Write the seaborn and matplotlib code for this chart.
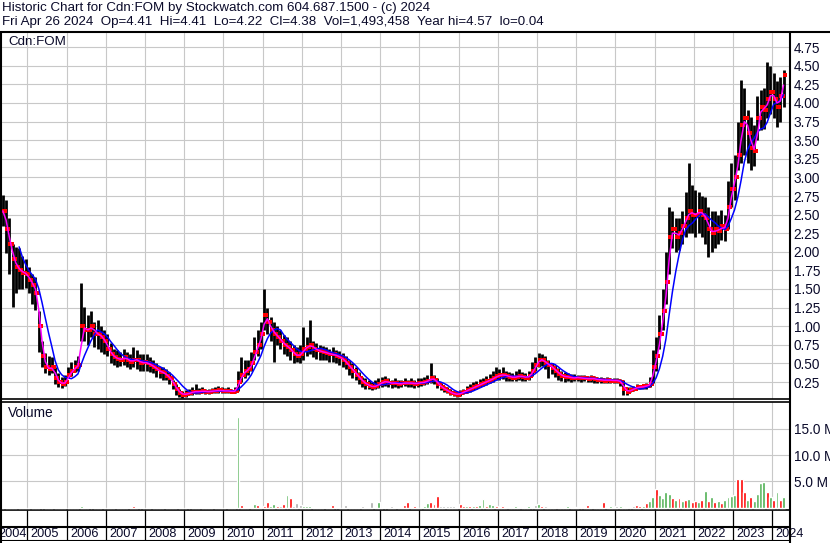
import numpy as np
import pandas as pd
import matplotlib
matplotlib.use("Agg")
import matplotlib.pyplot as plt
from matplotlib.lines import Line2D
import seaborn as sns

# monthly values, May 2004 .. Apr 2024 (one row per year)
close = [
    2.55, 2.30, 2.10, 1.90, 1.80, 1.75, 1.72, 1.70,
    1.62, 1.55, 1.45, 1.00, 0.60, 0.45, 0.42, 0.45, 0.30, 0.25, 0.22, 0.25,
    0.35, 0.40, 0.45, 0.48, 1.00, 0.95, 0.95, 1.00, 0.90, 0.90, 0.85, 0.80,
    0.70, 0.62, 0.58, 0.56, 0.55, 0.58, 0.55, 0.52, 0.55, 0.55, 0.50, 0.52,
    0.50, 0.48, 0.45, 0.42, 0.38, 0.38, 0.33, 0.30, 0.22, 0.15, 0.10, 0.08,
    0.09, 0.10, 0.12, 0.12, 0.12, 0.13, 0.12, 0.12, 0.13, 0.13, 0.14, 0.13,
    0.13, 0.13, 0.12, 0.13, 0.25, 0.35, 0.40, 0.42, 0.50, 0.65, 0.75, 0.90,
    1.15, 1.05, 0.95, 0.90, 0.85, 0.80, 0.75, 0.72, 0.68, 0.62, 0.60, 0.62,
    0.70, 0.72, 0.75, 0.70, 0.68, 0.66, 0.65, 0.64, 0.62, 0.62, 0.60, 0.58,
    0.55, 0.50, 0.45, 0.40, 0.35, 0.30, 0.25, 0.22, 0.20, 0.18, 0.20, 0.22,
    0.25, 0.26, 0.24, 0.23, 0.24, 0.22, 0.23, 0.24, 0.23, 0.24, 0.22, 0.24,
    0.24, 0.25, 0.27, 0.30, 0.28, 0.22, 0.18, 0.15, 0.13, 0.10, 0.09, 0.08,
    0.10, 0.12, 0.14, 0.16, 0.18, 0.20, 0.22, 0.24, 0.26, 0.28, 0.30, 0.33,
    0.34, 0.35, 0.33, 0.32, 0.31, 0.32, 0.33, 0.32, 0.31, 0.33, 0.40, 0.48,
    0.55, 0.55, 0.50, 0.48, 0.44, 0.40, 0.36, 0.33, 0.32, 0.32, 0.30, 0.31,
    0.31, 0.30, 0.30, 0.29, 0.30, 0.29, 0.28, 0.28, 0.27, 0.28, 0.27, 0.27,
    0.27, 0.25, 0.15, 0.12, 0.14, 0.16, 0.18, 0.18, 0.19, 0.20, 0.22, 0.45,
    0.60, 0.90, 1.20, 1.60, 2.20, 2.30, 2.20, 2.25, 2.35, 2.45, 2.55, 2.50,
    2.50, 2.55, 2.50, 2.45, 2.30, 2.25, 2.30, 2.28, 2.35, 2.30, 2.60, 2.85,
    3.00, 3.30, 3.70, 3.80, 3.60, 3.40, 3.35, 3.80, 3.95, 3.90, 4.05, 4.15,
    4.05, 3.95, 4.10, 4.38,
]
high = [
    2.76, 2.69, 2.45, 2.10, 2.06, 2.05, 1.95, 1.90,
    1.80, 1.70, 1.66, 1.20, 0.80, 0.64, 0.60, 0.58, 0.45, 0.37, 0.32, 0.35,
    0.45, 0.52, 0.55, 0.60, 1.58, 1.26, 1.15, 1.20, 1.05, 1.08, 1.00, 0.95,
    0.90, 0.77, 0.70, 0.68, 0.65, 0.70, 0.65, 0.62, 0.72, 0.68, 0.62, 0.62,
    0.62, 0.58, 0.55, 0.50, 0.45, 0.45, 0.42, 0.38, 0.28, 0.22, 0.16, 0.13,
    0.14, 0.15, 0.18, 0.22, 0.17, 0.18, 0.16, 0.16, 0.17, 0.18, 0.19, 0.18,
    0.17, 0.18, 0.16, 0.18, 0.40, 0.58, 0.55, 0.55, 0.65, 0.85, 0.95, 1.05,
    1.50, 1.25, 1.12, 1.05, 1.00, 0.95, 0.88, 0.85, 0.80, 0.75, 0.72, 0.75,
    0.99, 0.85, 1.08, 0.80, 0.77, 0.75, 0.74, 0.72, 0.70, 0.72, 0.68, 0.66,
    0.64, 0.60, 0.55, 0.50, 0.45, 0.38, 0.32, 0.30, 0.28, 0.25, 0.28, 0.30,
    0.32, 0.33, 0.30, 0.28, 0.30, 0.28, 0.28, 0.30, 0.28, 0.30, 0.28, 0.30,
    0.30, 0.32, 0.35, 0.50, 0.35, 0.30, 0.24, 0.20, 0.18, 0.15, 0.13, 0.12,
    0.14, 0.16, 0.20, 0.22, 0.25, 0.27, 0.29, 0.31, 0.33, 0.36, 0.40, 0.45,
    0.42, 0.45, 0.40, 0.38, 0.37, 0.40, 0.42, 0.38, 0.37, 0.40, 0.52, 0.58,
    0.64, 0.63, 0.60, 0.55, 0.50, 0.48, 0.44, 0.40, 0.38, 0.37, 0.36, 0.36,
    0.35, 0.34, 0.35, 0.33, 0.34, 0.33, 0.32, 0.32, 0.31, 0.32, 0.31, 0.31,
    0.30, 0.29, 0.28, 0.18, 0.18, 0.20, 0.22, 0.21, 0.22, 0.24, 0.32, 0.68,
    0.85, 1.15, 1.50, 2.00, 2.60, 2.55, 2.45, 2.45, 2.55, 2.80, 3.19, 2.90,
    2.83, 2.80, 2.75, 2.74, 2.60, 2.55, 2.55, 2.50, 2.56, 2.50, 2.95, 3.19,
    3.30, 3.75, 4.31, 4.20, 3.90, 3.81, 3.70, 4.10, 4.17, 4.20, 4.55, 4.50,
    4.40, 4.30, 4.35, 4.45,
]
low = [
    2.35, 1.98, 1.70, 1.26, 1.45, 1.50, 1.50, 1.52,
    1.45, 1.30, 1.22, 0.65, 0.45, 0.37, 0.35, 0.37, 0.22, 0.18, 0.17, 0.20,
    0.30, 0.33, 0.38, 0.40, 0.80, 0.80, 0.75, 0.85, 0.72, 0.70, 0.65, 0.62,
    0.60, 0.50, 0.48, 0.45, 0.47, 0.48, 0.45, 0.42, 0.45, 0.42, 0.40, 0.40,
    0.40, 0.38, 0.37, 0.32, 0.30, 0.28, 0.28, 0.22, 0.15, 0.08, 0.05, 0.04,
    0.05, 0.07, 0.08, 0.09, 0.09, 0.10, 0.09, 0.09, 0.10, 0.10, 0.10, 0.10,
    0.10, 0.10, 0.10, 0.10, 0.13, 0.25, 0.30, 0.35, 0.40, 0.55, 0.60, 0.70,
    0.95, 0.90, 0.80, 0.52, 0.75, 0.70, 0.62, 0.60, 0.55, 0.50, 0.52, 0.50,
    0.55, 0.60, 0.62, 0.58, 0.56, 0.55, 0.55, 0.54, 0.52, 0.52, 0.50, 0.48,
    0.45, 0.42, 0.35, 0.30, 0.28, 0.22, 0.18, 0.16, 0.15, 0.14, 0.15, 0.17,
    0.18, 0.20, 0.18, 0.17, 0.18, 0.17, 0.18, 0.19, 0.18, 0.18, 0.17, 0.18,
    0.20, 0.21, 0.22, 0.24, 0.22, 0.17, 0.14, 0.12, 0.10, 0.07, 0.06, 0.05,
    0.06, 0.09, 0.10, 0.12, 0.14, 0.16, 0.18, 0.19, 0.21, 0.23, 0.25, 0.28,
    0.28, 0.29, 0.27, 0.27, 0.26, 0.27, 0.28, 0.27, 0.26, 0.28, 0.33, 0.40,
    0.45, 0.46, 0.42, 0.30, 0.36, 0.32, 0.28, 0.27, 0.25, 0.26, 0.25, 0.26,
    0.26, 0.25, 0.26, 0.25, 0.25, 0.24, 0.24, 0.24, 0.23, 0.24, 0.23, 0.23,
    0.24, 0.20, 0.08, 0.08, 0.11, 0.13, 0.15, 0.15, 0.16, 0.16, 0.18, 0.24,
    0.40, 0.70, 0.95, 1.30, 1.70, 2.05, 2.00, 2.02, 2.10, 2.20, 2.25, 2.25,
    2.20, 2.25, 2.20, 2.10, 1.93, 2.00, 2.05, 2.10, 2.16, 2.15, 2.30, 2.60,
    2.70, 3.10, 3.20, 3.30, 3.20, 3.10, 3.15, 3.50, 3.64, 3.65, 3.80, 3.85,
    3.80, 3.68, 3.75, 3.95,
]
# volume in millions and the bar direction (1 up, -1 down, 0 unchanged)
volume = [
    0, 0, 0, 0, 0, 0, 0, 0,
    0, 0, 0, 0, 0, 0, 0, 0, 0, 0, 0, 0,
    0, 0, 0, 0, 0.3, 0, 0, 0, 0, 0, 0, 0,
    0, 0, 0, 0, 0, 0, 0, 0, 0.3, 0, 0, 0,
    0, 0, 0, 0, 0, 0, 0, 0, 0, 0, 0, 0,
    0, 0, 0, 0, 0, 0, 0, 0, 0, 0, 0, 0,
    0, 0, 0, 0, 17.3, 0.4, 0, 0, 0, 0.6, 0.5, 0,
    0.3, 1.0, 0.2, 0.7, 0.2, 0.2, 0.7, 2.4, 1.8, 0.3, 0.9, 0.4,
    0.3, 0.2, 0.2, 0, 0, 0, 0, 0, 0, 0.5, 0, 0,
    0, 0.4, 0, 0, 0, 0, 0.2, 0, 0, 1.0, 0, 1.0,
    0, 0, 0, 0.2, 0, 0, 0, 0.5, 1.0, 0, 0.3, 0,
    0, 0.3, 0.9, 1.1, 0.6, 2.2, 0.2, 0.2, 0.2, 0.2, 0.2, 0,
    0.7, 0.3, 0.3, 0.3, 0.2, 0.2, 0.5, 1.6, 0.3, 0.6, 0.4, 0.2,
    0.1, 0.3, 0.1, 0.1, 0.1, 0.2, 0.1, 0.1, 0.1, 0.2, 0.1, 0.5,
    0.6, 0.3, 0.2, 0.1, 0.1, 0.1, 0.1, 0.1, 0.1, 0.2, 0.1, 0.1,
    0.05, 0.05, 0.05, 0.5, 0.05, 0.05, 0.05, 0.05, 1.0, 0.05, 0.2, 0.05,
    0.2, 0.2, 0.1, 0.1, 0.1, 0.2, 0.5, 0.3, 0.3, 0.9, 1.2, 2.0,
    3.5, 2.4, 1.8, 3.0, 2.6, 1.8, 1.5, 1.8, 1.2, 1.4, 1.6, 1.0,
    1.2, 1.0, 1.5, 3.1, 1.2, 2.0, 1.0, 1.2, 0.9, 1.5, 2.0, 2.2,
    2.4, 5.5, 5.5, 3.0, 1.5, 2.0, 1.2, 2.5, 4.7, 4.8, 3.0, 2.0,
    1.5, 2.9, 1.5, 2.0,
]
vol_dir = [
    0, 0, 0, 0, 0, 0, 0, 0,
    0, 0, 0, 0, 0, 0, 0, 0, 0, 0, 0, 0,
    0, 0, 0, 0, 1, 0, 0, 0, 0, 0, 0, 0,
    0, 0, 0, 0, 0, 0, 0, 0, -1, 0, 0, 0,
    0, 0, 0, 0, 0, 0, 0, 0, 0, 0, 0, 0,
    0, 0, 0, 0, 0, 0, 0, 0, 0, 0, 0, 0,
    0, 0, 0, 0, 1, -1, 0, 0, 0, 1, -1, 0,
    -1, -1, 1, 1, -1, 0, -1, 1, -1, 0, 0, 0,
    1, 1, 1, 0, 0, 0, 0, 0, 0, -1, 0, 0,
    0, 0, 0, 0, 0, 0, 0, 0, 0, 0, 0, 1,
    0, 0, 0, 0, 0, 0, 0, -1, -1, 0, -1, 0,
    0, 1, 1, -1, -1, -1, 0, 0, 0, 0, 0, 0,
    -1, -1, 1, -1, 1, -1, 1, 1, -1, 1, 1, -1,
    -1, -1, 0, 1, 0, 1, 0, -1, 0, 1, 0, 0,
    1, -1, 0, 1, 0, 0, -1, 0, 0, 1, 0, 0,
    0, 0, 0, -1, 0, 0, 0, 0, -1, 0, 1, 0,
    0, 1, -1, 0, 1, 0, -1, -1, 1, -1, 1, 1,
    -1, 1, 1, 1, 1, -1, 1, -1, 1, -1, 1, -1,
    -1, 1, -1, 1, -1, 1, -1, 1, -1, 1, 1, 1,
    1, -1, -1, -1, 1, -1, 1, 1, 1, 1, -1, 1,
    -1, 1, -1, 1,
]
years = list(range(2004, 2025))
price_ticks = [0.25, 0.50, 0.75, 1.00, 1.25, 1.50, 1.75, 2.00, 2.25, 2.50,
               2.75, 3.00, 3.25, 3.50, 3.75, 4.00, 4.25, 4.50, 4.75]
vol_ticks = [5, 10, 15]

title1 = "Historic Chart for Cdn:FOM by Stockwatch.com 604.687.1500 - (c) 2024"
title2 = ("Fri Apr 26 2024  Op=4.41  Hi=4.41  Lo=4.22  Cl=4.38  "
          "Vol=1,493,458  Year hi=4.57  lo=0.04")

months = pd.date_range("2004-05-01", periods=len(close), freq="MS")
df = pd.DataFrame({
    "t": months.year + (months.month - 0.5) / 12,
    "close": close, "high": high, "low": low,
    "volume": volume, "dir": vol_dir,
})
df["open"] = df["close"].shift(1).fillna(df["close"])
df["ma_short"] = df["close"].rolling(2, min_periods=1).mean()
df["ma_long"] = df["close"].rolling(6).mean()

sns.set_theme(style="white")
plt.rcParams['font.family'] = ['Liberation Sans', 'DejaVu Sans']
txt_color = "#0a0a2a"
grid_color = "#c8c8c8"

W, H = 830, 543
fig = plt.figure(figsize=(W / 100, H / 100), dpi=100)
fig.patch.set_facecolor("white")


def px_box(x0, y0, x1, y1):
    return [x0 / W, 1 - y1 / H, (x1 - x0) / W, (y1 - y0) / H]


# pixel -> data mapping of the original chart
xlim = (2005 + (2 - 27.3) / 39.2, 2005 + (789 - 27.3) / 39.2)

ax = fig.add_axes(px_box(2, 33, 789, 398.5))
ax_v = fig.add_axes(px_box(2, 401.5, 789, 510))
ax_y = fig.add_axes(px_box(2, 510, 789, 541))

# price panel
ax.vlines(df["t"], df["low"], df["high"], color="black", lw=2.0, zorder=3)
ax.plot(df["t"] - 0.025, df["open"], "s", color="red", ms=2.2, mew=0, zorder=4)
ax.plot(df["t"] + 0.025, df["close"], "s", color="red", ms=2.4, mew=0, zorder=4)
sns.lineplot(data=df, x="t", y="ma_long", color="#0000ff", lw=1.1, ax=ax, zorder=5)
sns.lineplot(data=df, x="t", y="ma_short", color="#ff00ff", lw=1.1, ax=ax, zorder=6)
ax.set_xlim(xlim)
ax.set_ylim((400.6 - 398.5) / 74.4, (400.6 - 33) / 74.4)
ax.set_yticks(price_ticks)
ax.set_yticklabels([f"{v:.2f}" for v in price_ticks])
ax.text(6 / 787, 1 - 9 / 365.5, "Cdn:FOM", transform=ax.transAxes,
        fontsize=9.6, color=txt_color, va="center", ha="left")

# volume panel
colors = df["dir"].map({1: "#4caf50", -1: "#ff0000", 0: "#a8a8a8"})
ax_v.bar(df["t"], df["volume"], width=0.075, color=colors, zorder=3)
ax_v.set_xlim(xlim)
ax_v.set_ylim((507.5 - 510) / 5.24, (507.5 - 401.5) / 5.24)
ax_v.set_yticks(vol_ticks)
ax_v.set_yticklabels([f"{v:.1f} M" for v in vol_ticks])
ax_v.text(6 / 787, 1 - 11.5 / 108.5, "Volume", transform=ax_v.transAxes,
          fontsize=9.8, color=txt_color, va="center", ha="left")

for a in (ax, ax_v):
    a.set_xticks(years[1:])
    a.set_xticklabels([])
    a.grid(True, color=grid_color, lw=0.8)
    a.set_axisbelow(True)
    a.yaxis.tick_right()
    a.tick_params(axis="y", length=0, pad=3.5, labelsize=9.8, labelcolor=txt_color)
    a.tick_params(axis="x", length=0)
    a.set_xlabel("")
    a.set_ylabel("")
    for s in a.spines.values():
        s.set_visible(False)
    a.spines["bottom"].set_visible(True)
    a.spines["bottom"].set_color("black")
    a.spines["bottom"].set_linewidth(1.2)
ax_v.spines["top"].set_visible(True)
ax_v.spines["top"].set_color("black")
ax_v.spines["top"].set_linewidth(1.2)

# year label strip
ax_y.set_xlim(xlim)
ax_y.set_ylim(0, 1)
ax_y.axis("off")
ax_y.vlines(years[1:], 0, 1, color="black", lw=0.9)
ax_y.axhline((541 - 526.5) / 31, color="black", lw=1.5)
ax_y.axhline(0, color="black", lw=1.5)
for yr in years:
    if yr == years[0]:
        ax_y.text(yr + 1 - 0.6 / 39.2, 0.22, str(yr), ha="right", va="center",
                  fontsize=9.2, color=txt_color, clip_on=False)
    else:
        ax_y.text(yr + 3.5 / 39.2, 0.22, str(yr), ha="left", va="center",
                  fontsize=9.2, color=txt_color, clip_on=False)

# frame lines of the chart
fig.add_artist(Line2D([0, 1], [1 - 31.5 / H] * 2, color="black", lw=1.5))
fig.add_artist(Line2D([789.5 / W] * 2, [0, 1 - 31.5 / H], color="black", lw=1.5))
fig.add_artist(Line2D([1 / W] * 2, [0, 1 - 31.5 / H], color="black", lw=1.5))

fig.text(2 / W, 1 - 8.5 / H, title1, fontsize=9.6, color=txt_color, va="center")
fig.text(2 / W, 1 - 22 / H, title2, fontsize=9.6, color=txt_color, va="center")

fig.savefig("out.png", dpi=100)
